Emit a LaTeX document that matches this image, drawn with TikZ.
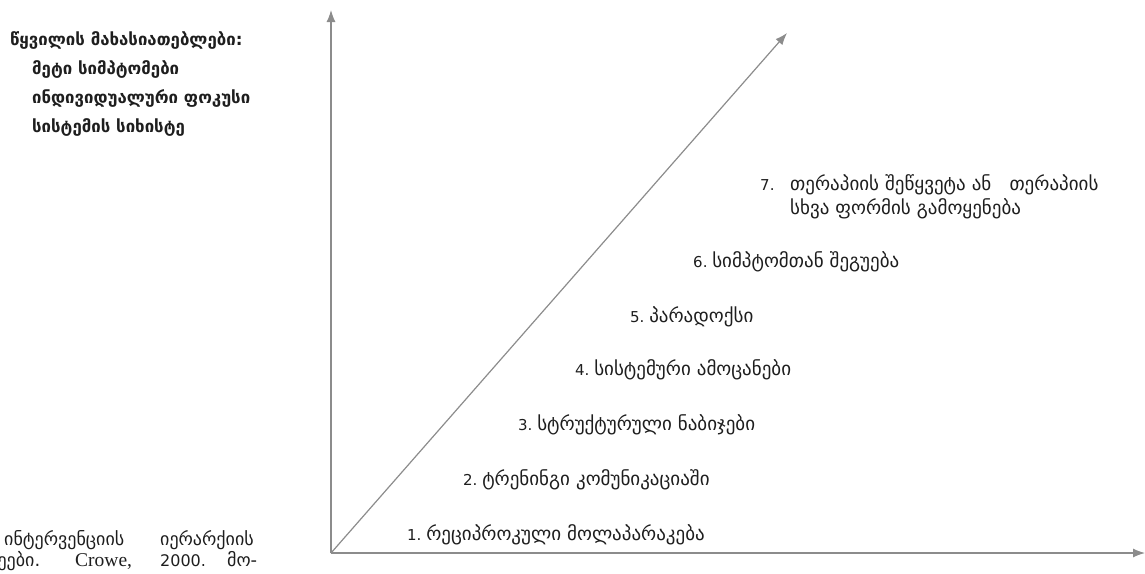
\documentclass[tikz,border=0pt]{standalone}
\usepackage{fontspec}
\setmainfont{DejaVu Sans}
\newfontfamily\capserif{Liberation Serif}
\usetikzlibrary{arrows.meta}
\definecolor{axisgray}{HTML}{8C8C8C}
\definecolor{txt}{HTML}{1E1E1E}
\newcommand\ka[1]{{\fontsize{19}{22}\selectfont #1}}
\tikzset{
  axis/.style={draw=axisgray, line width=1.2pt, -{Latex[length=12pt,width=9pt]}},
  item/.style={anchor=base west, inner sep=0pt, text=txt, font=\fontsize{15}{18}\selectfont},
  head/.style={anchor=base west, inner sep=0pt, text=txt, font=\bfseries\fontsize{16.8}{20}\selectfont},
  capt/.style={anchor=base west, inner sep=0pt, text=txt, font=\fontsize{18}{20}\selectfont},
}
\begin{document}
\begin{tikzpicture}[x=1pt,y=-1pt]
\useasboundingbox (0,0) rectangle (1145,573);
\coordinate (O) at (331,553);
\coordinate (ytop) at (331,10);
\coordinate (xend) at (1145,553);
\coordinate (dend) at (787,33);
\draw[axis] (O) -- (ytop);
\draw[axis] (O) -- (xend);
\draw[axis] (O) -- (dend);

\node[head] (h1) at (10,45) {წყვილის მახასიათებლები:};
\node[head] (h2) at (32,74) {მეტი სიმპტომები};
\node[head] (h3) at (32,103) {ინდივიდუალური ფოკუსი};
\node[head] (h4) at (32,132) {სისტემის სიხისტე};

\node[item] (n7) at (760,190) {7.};
\node[item] (t7a) at (790,190) {\ka{თერაპიის შეწყვეტა ან \ \ თერაპიის}};
\node[item] (t7b) at (790,214) {\ka{სხვა ფორმის გამოყენება}};
\node[item] (n6) at (693,267) {6.~\ka{სიმპტომთან შეგუება}};
\node[item] (n5) at (630,322) {5.~\ka{პარადოქსი}};
\node[item] (n4) at (575,375) {4.~\ka{სისტემური ამოცანები}};
\node[item] (n3) at (518,430) {3.~\ka{სტრუქტურული ნაბიჯები}};
\node[item] (n2) at (463,485) {2.~\ka{ტრენინგი კომუნიკაციაში}};
\node[item] (n1) at (407,540) {1.~\ka{რეციპროკული მოლაპარაკება}};

\node[capt] (c1) at (4,545) {ინტერვენციის};
\node[capt] (c2) at (160,545) {იერარქიის};
\node[capt] (c3) at (-12,566) {ნეები.};
\node[capt, font=\capserif\fontsize{19.5}{22}\selectfont] (c4) at (75,566) {Crowe,};
\node[capt, font=\fontsize{16}{18}\selectfont] (c5) at (160,566) {2000.};
\node[capt] (c6) at (227,566) {მო-};
\end{tikzpicture}
\end{document}
